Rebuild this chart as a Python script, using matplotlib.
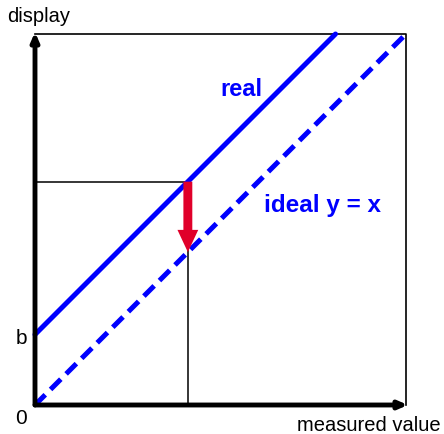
import matplotlib.pyplot as plt
import numpy as np

plt.rcParams['font.family'] = ['Liberation Sans', 'DejaVu Sans']

# offset of the real line and the chosen measured value
b = 0.19
x0 = 0.412
x_ideal = [0.0, 1.0]
y_ideal = [0.0, 1.0]
x_real = [0.0, 1.0 - b]
y_real = [b, 1.0]

blue = '#0000ff'
red = '#e0002a'

fig = plt.figure(figsize=(4.44, 4.34), dpi=100)
ax = fig.add_axes([35 / 444, 29 / 434, 371 / 444, 371 / 434])
ax.set_xlim(0, 1)
ax.set_ylim(0, 1)
ax.axis('off')

# thin frame on top and right
ax.plot([0, 1, 1], [1, 1, 0], color='black', lw=1.2, clip_on=False)

# guide lines
ax.plot([0, x0], [x0 + b, x0 + b], color='black', lw=1.1)
ax.plot([x0, x0], [0, x0 + b], color='black', lw=1.1)

# lines
ax.plot(x_real, y_real, color=blue, lw=3.6, solid_capstyle='round', clip_on=False)
ax.plot(x_ideal, y_ideal, color=blue, lw=3.6, dashes=(2.9, 1.5),
        dash_capstyle='butt', clip_on=False)

# red arrow from real down to ideal
ax.arrow(x0, x0 + b, 0, -b, width=0.024, head_width=0.056, head_length=0.06,
         length_includes_head=True, color=red, lw=0, zorder=5)

# axes with arrowheads
for end in [(0, 1.005), (1.005, 0)]:
    ax.annotate('', xy=end, xytext=(0, 0),
                arrowprops=dict(arrowstyle='-|>,head_length=0.5,head_width=0.22',
                                color='black', lw=3.5, shrinkA=0, shrinkB=0),
                annotation_clip=False)

# texts
ax.text(-0.075, 1.046, 'display', fontsize=14.5, ha='left', va='center')
ax.text(1.092, -0.056, 'measured value', fontsize=14.5, ha='right', va='center')
ax.text(-0.022, 0.178, 'b', fontsize=15, ha='right', va='center')
ax.text(-0.022, -0.037, '0', fontsize=15, ha='right', va='center')
ax.text(0.555, 0.85, 'real', fontsize=17, fontweight='bold', color=blue,
        ha='center', va='center')
ax.text(0.774, 0.539, 'ideal y = x', fontsize=17.5, fontweight='bold', color=blue,
        ha='center', va='center')

fig.savefig('out.png', dpi=100)
